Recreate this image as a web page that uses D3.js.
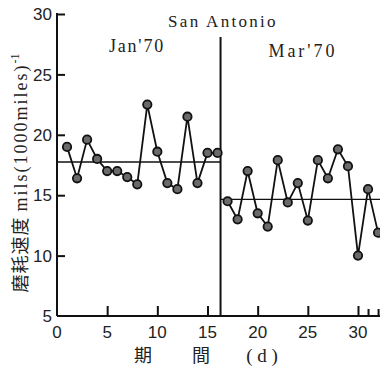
<!DOCTYPE html>
<html><head><meta charset="utf-8">
<script src="https://cdn.jsdelivr.net/npm/d3@7"></script>
<style>body{margin:0;background:#fff}svg{display:block}</style>
</head><body>
<script>
const janDays = [1,2,3,4,5,6,7,8,9,10,11,12,13,14,15,16];
const janValues = [19.0,16.4,19.6,18.0,17.0,17.0,16.5,15.9,22.5,18.6,16.0,15.5,21.5,16.0,18.5,18.5];
const marDays = [17,18,19,20,21,22,23,24,25,26,27,28,29,30,31,32];
const marValues = [14.5,13.0,17.0,13.5,12.4,17.9,14.4,16.0,12.9,17.9,16.4,18.8,17.4,10.0,15.5,11.9];
const janMean = 17.75;
const marMean = 14.65;
const splitDay = 16.3;
const yTicks = [10,15,20,25,30];
const yTickLabels = ["5","10","15","20","25","30"];
const xTicks = [5,10,15,20,25,30];
const xTickLabels = [0,5,10,15,20,25,30];
const minorXTicks = [31,32];

const W = 380, H = 369;
const svg = d3.select("body").append("svg").attr("width", W).attr("height", H);
const x = d3.scaleLinear().domain([0,30]).range([57,358]);
const y = d3.scaleLinear().domain([5,30]).range([316,14]);
const ink = "#111";

// axes lines
svg.append("line").attr("x1", x(0)).attr("x2", x(0)).attr("y1", y(30)-1).attr("y2", y(5)).attr("stroke", ink).attr("stroke-width", 2);
svg.append("line").attr("x1", x(0)).attr("x2", 380).attr("y1", y(5)).attr("y2", y(5)).attr("stroke", ink).attr("stroke-width", 2);

// y ticks inward
const yAxis = svg.append("g").attr("transform", `translate(${x(0)},0)`)
  .call(d3.axisLeft(y).tickValues(yTicks).tickSize(-8).tickFormat(""));
yAxis.select(".domain").remove();
yAxis.selectAll("line").attr("stroke", ink).attr("stroke-width", 2);
svg.selectAll(".ylab").data(yTickLabels).enter().append("text")
  .attr("x", 52).attr("y", d => y(+d)).attr("dy", "0.36em")
  .attr("text-anchor", "end").attr("font-family", "Liberation Sans, Arial, sans-serif")
  .attr("font-size", 17).attr("fill", "#222").text(d => d);

// x ticks upward
const xAxis = svg.append("g").attr("transform", `translate(0,${y(5)})`)
  .call(d3.axisBottom(x).tickValues(xTicks).tickSize(-10).tickFormat(""));
xAxis.select(".domain").remove();
xAxis.selectAll("line").attr("stroke", ink).attr("stroke-width", 2);
const xMinor = svg.append("g").attr("transform", `translate(0,${y(5)})`)
  .call(d3.axisBottom(x).tickValues(minorXTicks).tickSize(-7).tickFormat(""));
xMinor.select(".domain").remove();
xMinor.selectAll("line").attr("stroke", ink).attr("stroke-width", 2);
svg.selectAll(".xlab").data(xTickLabels).enter().append("text")
  .attr("x", d => x(d)).attr("y", 338)
  .attr("text-anchor", "middle").attr("font-family", "Liberation Sans, Arial, sans-serif")
  .attr("font-size", 17).attr("fill", "#222").text(d => d);

// divider
svg.append("line").attr("x1", x(splitDay)).attr("x2", x(splitDay)).attr("y1", 37).attr("y2", y(5))
  .attr("stroke", ink).attr("stroke-width", 2);

// mean lines
svg.append("line").attr("x1", x(0)).attr("x2", x(splitDay)).attr("y1", y(janMean)).attr("y2", y(janMean))
  .attr("stroke", ink).attr("stroke-width", 1.3);
svg.append("line").attr("x1", x(splitDay)).attr("x2", 380).attr("y1", y(marMean)).attr("y2", y(marMean))
  .attr("stroke", ink).attr("stroke-width", 1.3);

const line = d3.line().x(d => x(d[0])).y(d => y(d[1]));
function series(days, vals) {
  const pts = days.map((d,i) => [d, vals[i]]);
  svg.append("path").attr("d", line(pts)).attr("fill", "none").attr("stroke", ink).attr("stroke-width", 1.8);
  svg.append("g").selectAll("circle").data(pts).enter().append("circle")
    .attr("cx", d => x(d[0])).attr("cy", d => y(d[1])).attr("r", 4.2)
    .attr("fill", "#6a6a6a").attr("stroke", ink).attr("stroke-width", 1.8);
}
series(janDays, janValues);
series(marDays, marValues);

// texts
const serif = "Liberation Serif, DejaVu Serif, serif";
svg.append("text").attr("x", 223).attr("y", 27).attr("text-anchor", "middle")
  .attr("font-family", serif).attr("font-size", 17).attr("letter-spacing", 2.3).attr("fill", "#222").text("San Antonio");
svg.append("text").attr("x", 137).attr("y", 52).attr("text-anchor", "middle")
  .attr("font-family", serif).attr("font-size", 18).attr("letter-spacing", 1.8).attr("fill", "#222").text("Jan'70");
svg.append("text").attr("x", 303).attr("y", 57).attr("text-anchor", "middle")
  .attr("font-family", serif).attr("font-size", 18).attr("letter-spacing", 3).attr("fill", "#222").text("Mar'70");

// y-axis title
const yt = svg.append("text").attr("transform", "translate(27,173) rotate(-90)")
  .attr("text-anchor", "middle").attr("font-size", 18).attr("fill", "#222");
yt.append("tspan").attr("font-family", "Noto Sans CJK JP, sans-serif").attr("letter-spacing", 1).text("磨耗速度 ");
yt.append("tspan").attr("font-family", serif).attr("letter-spacing", 2).text("mils(1000miles)");
yt.append("tspan").attr("font-family", serif).attr("font-size", 12).attr("dy", -8).text("-1");

// x-axis title
const xt = svg.append("g").attr("font-size", 18).attr("fill", "#222");
xt.append("text").attr("x", 143).attr("y", 362).attr("text-anchor", "middle").attr("font-family", "Noto Sans CJK JP, sans-serif").text("期");
xt.append("text").attr("x", 201).attr("y", 362).attr("text-anchor", "middle").attr("font-family", "Noto Sans CJK JP, sans-serif").text("間");
xt.append("text").attr("x", 262).attr("y", 362).attr("text-anchor", "middle").attr("font-family", serif).attr("font-size", 19).text("( d )");
</script>
</body></html>
